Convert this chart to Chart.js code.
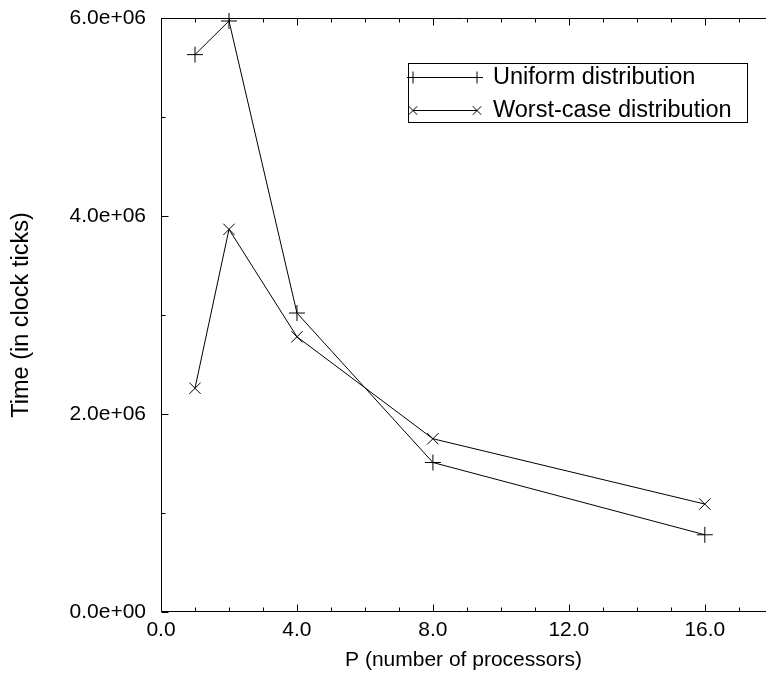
<!DOCTYPE html>
<html>
<head>
<meta charset="utf-8">
<script src="https://cdn.jsdelivr.net/npm/chart.js@4/dist/chart.umd.min.js"></script>
<style>
	html, body { margin: 0; padding: 0; background: #fff; overflow: hidden; }
	#box { width: 766px; height: 679px; }
</style>
</head>
<body>
<div id="box"><canvas id="cv" width="766" height="679"></canvas></div>
<script>
'use strict';

const procs = [1, 2, 4, 8, 16];
const uniformTime = [5.63e6, 5.97e6, 3.02e6, 1.51e6, 0.78e6];
const worstTime = [2.26e6, 3.865e6, 2.78e6, 1.75e6, 1.09e6];
const seriesNames = ['Uniform distribution', 'Worst-case distribution'];
const seriesMarks = ['cross', 'crossRot'];
const xLabelTicks = [0, 4, 8, 12, 16];
const yLabelTicks = [0, 2e6, 4e6, 6e6];

const fontName = "'Liberation Sans', Arial, Helvetica, sans-serif";

function expLabel(v){
	if(v === 0){
		return '0.0e+00';
	}
	let e = Math.floor(Math.log10(v) + 1e-9);
	let m = v / Math.pow(10, e);
	return m.toFixed(1) + 'e+' + String(e).padStart(2, '0');
}

function markPath(ctx, style, x, y, r){
	ctx.beginPath();
	if(style == 'cross'){
		ctx.moveTo(x - r, y); ctx.lineTo(x + r, y);
		ctx.moveTo(x, y - r); ctx.lineTo(x, y + r);
	}else{
		let d = r * Math.SQRT1_2;
		ctx.moveTo(x - d, y - d); ctx.lineTo(x + d, y + d);
		ctx.moveTo(x - d, y + d); ctx.lineTo(x + d, y - d);
	}
	ctx.stroke();
}

// frame with ticks pointing inward (like gnuplot)
const frameTicks = {
	id: 'frameTicks',
	afterDraw(chart){
		const ctx = chart.ctx;
		const a = chart.chartArea;
		const xs = chart.scales.x;
		const ys = chart.scales.y;
		const L = Math.round(a.left) + 0.5;
		const T = Math.round(a.top) + 0.5;
		const B = Math.round(a.bottom) - 0.5;
		ctx.save();
		ctx.strokeStyle = '#000';
		ctx.lineWidth = 1;
		ctx.beginPath();
		ctx.moveTo(a.right, T);
		ctx.lineTo(L, T);
		ctx.lineTo(L, B);
		ctx.lineTo(a.right, B);
		ctx.stroke();
		ctx.beginPath();
		xs.ticks.forEach((t) => {
			let len = xLabelTicks.includes(t.value) ? 7 : 4;
			let px = Math.round(xs.getPixelForValue(t.value)) + 0.5;
			ctx.moveTo(px, B); ctx.lineTo(px, B - len);
			ctx.moveTo(px, T); ctx.lineTo(px, T + len);
		});
		ys.ticks.forEach((t) => {
			let len = yLabelTicks.includes(t.value) ? 7 : 4;
			let py = Math.round(ys.getPixelForValue(t.value)) + 0.5;
			ctx.moveTo(L, py); ctx.lineTo(L + len, py);
		});
		ctx.stroke();
		ctx.restore();
	}
};

const boxLegend = {
	id: 'boxLegend',
	afterDraw(chart){
		const ctx = chart.ctx;
		let left = 408, top = 63, w = 339, h = 59;
		let rows = [77, 110];
		ctx.save();
		ctx.strokeStyle = '#000';
		ctx.lineWidth = 1;
		ctx.strokeRect(left + 0.5, top + 0.5, w, h);
		ctx.font = '23.5px ' + fontName;
		ctx.fillStyle = '#000';
		ctx.textBaseline = 'middle';
		chart.data.datasets.forEach((ds, i) => {
			let y = rows[i] + 0.5;
			ctx.beginPath();
			ctx.moveTo(413, y); ctx.lineTo(477, y);
			ctx.stroke();
			markPath(ctx, ds.pointStyle, 413, y, 6);
			markPath(ctx, ds.pointStyle, 477, y, 6);
			ctx.fillText(ds.label, 493, rows[i] + 1);
		});
		ctx.restore();
	}
};

function makeSet(name, ys, mark){
	return {
		label: name,
		data: procs.map((p, i) => ({x: p, y: ys[i]})),
		showLine: true,
		borderColor: '#000',
		backgroundColor: '#000',
		borderWidth: 1,
		pointStyle: mark,
		pointRadius: 8,
		pointBorderWidth: 1,
		pointBorderColor: '#000',
		clip: false
	};
}

const cv = document.getElementById('cv');
new Chart(cv.getContext('2d'), {
	type: 'scatter',
	data: {
		datasets: [
			makeSet(seriesNames[0], uniformTime, seriesMarks[0]),
			makeSet(seriesNames[1], worstTime, seriesMarks[1])
		]
	},
	options: {
		responsive: false,
		animation: false,
		devicePixelRatio: 1,
		layout: { autoPadding: false, padding: { top: 18, right: 0, left: 0, bottom: 0 } },
		plugins: {
			legend: { display: false },
			tooltip: { enabled: false }
		},
		scales: {
			x: {
				type: 'linear',
				min: 0,
				max: 17.8,
				afterFit: (s) => { s.height = 67; s.paddingLeft = 0; s.paddingRight = 0; },
				border: { display: false },
				grid: { display: false, drawTicks: false },
				ticks: {
					stepSize: 1,
					autoSkip: false,
					includeBounds: false,
					maxRotation: 0,
					padding: 6,
					color: '#000',
					font: { family: fontName, size: 21 },
					callback: (v) => xLabelTicks.includes(v) ? v.toFixed(1) : ''
				},
				title: {
					display: true,
					text: 'P (number of processors)',
					color: '#000',
					font: { family: fontName, size: 21 },
					padding: { top: 0, bottom: 6 }
				}
			},
			y: {
				min: 0,
				max: 6e6,
				afterFit: (s) => { s.width = 161; s.paddingTop = 0; s.paddingBottom = 0; },
				border: { display: false },
				grid: { display: false, drawTicks: false },
				ticks: {
					stepSize: 1e6,
					autoSkip: false,
					padding: 15,
					color: '#000',
					font: { family: fontName, size: 21 },
					callback: (v) => yLabelTicks.includes(v) ? expLabel(v) : ''
				},
				title: {
					display: true,
					text: 'Time (in clock ticks)',
					color: '#000',
					font: { family: fontName, size: 23.5 },
					padding: { top: 7, bottom: 0 }
				}
			}
		}
	},
	plugins: [frameTicks, boxLegend]
});
</script>
</body>
</html>
